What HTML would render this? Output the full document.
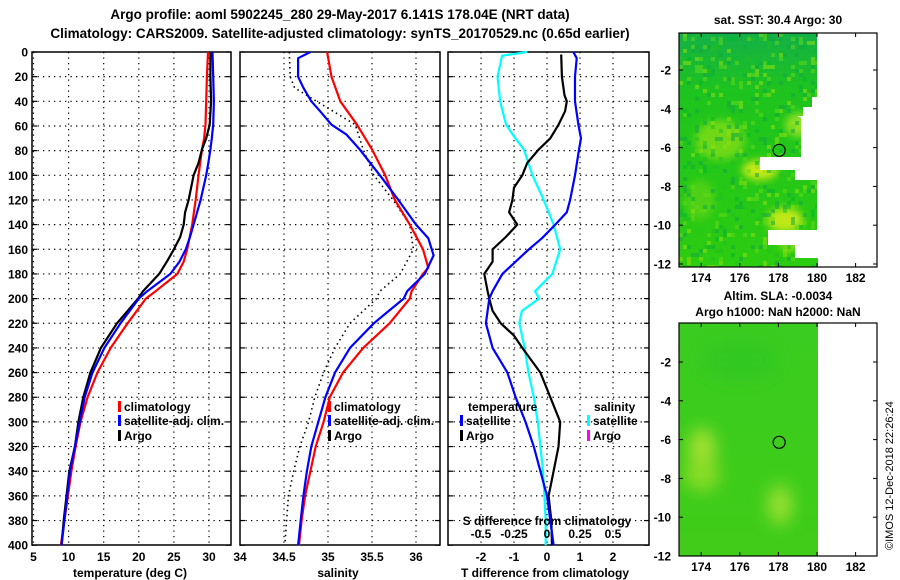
<!DOCTYPE html>
<html><head><meta charset="utf-8">
<style>
body{margin:0;background:#fff;}
svg{display:block;font-family:"Liberation Sans",sans-serif;font-weight:bold;}
</style></head>
<body>
<svg id="fig" width="900" height="580" viewBox="0 0 900 580" xmlns="http://www.w3.org/2000/svg">
<text x="340" y="19" font-size="13.5" text-anchor="middle">Argo profile: aoml 5902245_280 29-May-2017 6.141S 178.04E (NRT data)</text>
<text x="340" y="38" font-size="13.5" text-anchor="middle">Climatology: CARS2009. Satellite-adjusted climatology: synTS_20170529.nc (0.65d earlier)</text>
<g id="p1"></g>
<g id="p2"></g>
<g id="p3"></g>
<g id="m1"></g>
<g id="m2"></g>
<text transform="translate(893,550) rotate(-90)" font-size="11" font-weight="normal">©IMOS 12-Dec-2018 22:26:24</text>
</svg>
<script>
// ---- data ----
const depthTicks=[0,20,40,60,80,100,120,140,160,180,200,220,240,260,280,300,320,340,360,380,400];
const tDepth=[0,20,40,59,70,79,90,100,120,130,140,150,160,170,180,194,200,220,240,260,280,300,320,340,360,380,400];
const tClim=[29.86,29.7,29.6,29.5,29.3,29.0,28.75,28.5,28.1,27.85,27.6,27.25,26.9,26.4,25.5,22.4,21.0,18.4,16.0,14.1,12.7,11.7,11.0,10.4,9.9,9.4,8.9];
const tSat=[30.5,30.6,30.7,30.6,30.4,30.2,29.9,29.6,28.8,28.3,27.8,27.3,26.7,25.8,24.5,21.2,20.0,17.4,15.1,13.4,12.3,11.6,10.9,10.2,9.8,9.4,9.0];
const tArgo=[30.2,30.2,30.3,30.1,29.6,29.0,28.5,27.8,27.1,26.6,26.4,25.9,25.0,24.0,22.9,20.6,19.9,16.9,14.6,13.1,12.1,11.4,10.9,10.1,9.7,9.3,9.0];
const sDepth=[0,5,20,29,40,48,59,67,79,100,120,140,151,165,180,194,200,220,240,260,280,300,320,340,360,380,400];
const sSat=[34.80,34.66,34.66,34.72,34.81,34.91,35.04,35.21,35.36,35.59,35.80,36.0,36.14,36.20,36.10,35.90,35.86,35.52,35.25,35.08,34.97,34.89,34.81,34.76,34.72,34.69,34.66];
const sClimD=[0,20,40,59,79,100,120,140,160,175,180,194,200,220,240,260,280,300,320,340,360,380,400];
const sClim=[34.99,35.04,35.14,35.33,35.50,35.65,35.76,35.93,36.08,36.14,36.08,35.95,35.93,35.70,35.40,35.17,35.02,34.95,34.86,34.80,34.74,34.70,34.67];
const sArgoD=[0,20,29,40,59,79,100,120,140,160,180,194,200,220,240,260,280,300,320,340,360,380,400];
const sArgo=[34.56,34.57,34.62,34.87,35.31,35.40,35.52,35.74,35.93,35.97,35.82,35.59,35.55,35.25,35.08,34.95,34.85,34.78,34.68,34.61,34.55,34.53,34.51];
const dTSatD=[0,5,20,40,59,70,79,100,120,130,140,151,160,180,194,200,220,240,260,280,300,320,340,360,380,400];
const dTSat=[0.8,0.9,0.85,0.85,0.95,1.03,0.97,0.85,0.7,0.6,0.25,-0.15,-0.55,-1.35,-1.65,-1.75,-1.85,-1.65,-1.2,-0.95,-0.65,-0.4,-0.2,0,0.1,0.2];
const dTArgoD=[2,20,35,40,48,59,70,79,90,100,110,120,130,140,150,160,170,180,194,200,210,220,230,240,260,280,300,320,340,360,380,400];
const dTArgo=[0.43,0.45,0.53,0.6,0.55,0.35,0.1,-0.25,-0.6,-0.75,-1.0,-1.05,-1.15,-0.9,-1.25,-1.65,-1.65,-1.9,-1.8,-1.75,-1.65,-1.4,-1.0,-0.75,-0.2,0.1,0.4,0.35,0.2,0.05,0.13,0.15];
const dSSatD=[0,3,20,40,59,70,79,100,120,140,160,180,194,200,210,220,240,260,280,300,320,340,360,380,400];
const dSSat=[-0.15,-0.34,-0.375,-0.355,-0.31,-0.24,-0.175,-0.11,-0.025,0.05,0.1,0.04,-0.09,-0.06,-0.19,-0.21,-0.17,-0.14,-0.1,-0.07,-0.05,-0.03,-0.02,-0.01,-0.01];
const tTicks=[5,10,15,20,25,30];
const sTicks=[34,34.5,35,35.5,36];
const sTickLabels=["34","34.5","35","35.5","36"];
const dTTicks=[-2,-1,0,1,2];
const dSTicks=[-0.5,-0.25,0,0.25,0.5];
const lonTicks=[174,176,178,180,182];
const latTicks1=[-2,-4,-6,-8,-10,-12];

// ---- helpers ----
const NS="http://www.w3.org/2000/svg";
function mk(parent,tag,attrs,text){const e=document.createElementNS(NS,tag);for(const k in attrs)e.setAttribute(k,attrs[k]);if(text!==undefined)e.textContent=text;parent.appendChild(e);return e;}
const yD=d=>52+d*1.233;
const TOP=52,BOT=545;
const xT=T=>33.5+(T-5)*7.02;
const xS=S=>240+(S-34)*88;
const xDT=t=>547+t*33;
const xDS=s=>547+s*132;

function frame(g,x0,x1,vticks,xf,leftLabels){
  for(const d of depthTicks){if(d===0||d===400)continue;
    const l=mk(g,'line',{x1:x0,x2:x1,y1:yD(d),y2:yD(d),stroke:'#000','stroke-dasharray':'1.3,4.2','stroke-width':1.2});
    }
  for(const v of vticks){const x=xf(v);if(x<=x0+1||x>=x1-1)continue;
    const l=mk(g,'line',{x1:x,x2:x,y1:TOP,y2:BOT,stroke:'#000','stroke-dasharray':'1.3,4.2','stroke-width':1.2});
    }
  for(const d of depthTicks){
    const a=mk(g,'line',{x1:x0,x2:x0+5,y1:yD(d),y2:yD(d),stroke:'#000','stroke-width':1.2});
    
    const b=mk(g,'line',{x1:x1-5,x2:x1,y1:yD(d),y2:yD(d),stroke:'#000','stroke-width':1.2});
    
    if(leftLabels){const t=mk(g,'text',{x:28,y:yD(d)+4.5,'font-size':12,'text-anchor':'end'},String(d));
      }
  }
  const r=mk(g,'rect',{x:x0,y:TOP,width:x1-x0,height:BOT-TOP,fill:'none',stroke:'#000','stroke-width':1.5});
  
}
function line(g,xs,ds,xf,color,name,dash){
  const pts=xs.map((v,i)=>xf(v).toFixed(1)+','+yD(ds[i]).toFixed(1)).join(' ');
  const a={points:pts,fill:'none',stroke:color,'stroke-width':dash?1.6:2.2,'stroke-linejoin':'round'};
  if(dash)a['stroke-dasharray']='1.5,3.5';
  const p=mk(g,'polyline',a);
  
}
function legend(g,x,y,color,label,name){
  const r=mk(g,'rect',{x:x,y:y-10,width:3,height:11,fill:color});
  
  if(label){const t=mk(g,'text',{x:x+6,y:y,'font-size':12},label);
  }
}
function xlabels(g,ticks,labels,xf,y,name){
  ticks.forEach((v,i)=>{const t=mk(g,'text',{x:xf(v),y:y,'font-size':12,'text-anchor':'middle'},labels?labels[i]:String(v));
    });
}

// panel 1
const p1=document.getElementById('p1');
frame(p1,32,231,tTicks,xT,true);
line(p1,tClim,tDepth,xT,'#ff0000','climatology-temp-line');
line(p1,tArgo,tDepth,xT,'#000000','argo-temp-line');
line(p1,tSat,tDepth,xT,'#0000ff','satellite-temp-line');
xlabels(p1,tTicks,null,xT,561,'temp-tick-label');
let t=mk(p1,'text',{x:130,y:577,'font-size':12,'text-anchor':'middle'},'temperature (deg C)');

legend(p1,118,411,'#ff0000','climatology','legend-climatology');
legend(p1,118,425,'#0000ff','satellite-adj. clim.','legend-satellite');
legend(p1,118,440,'#000000','Argo','legend-argo');

// panel 2
const p2=document.getElementById('p2');
frame(p2,240,440,sTicks,xS,false);
line(p2,sArgo,sArgoD,xS,'#000000','argo-salinity-line',true);
line(p2,sClim,sClimD,xS,'#ff0000','climatology-salinity-line');
line(p2,sSat,sDepth,xS,'#0000ff','satellite-salinity-line');
xlabels(p2,sTicks,sTickLabels,xS,561,'salinity-tick-label');
t=mk(p2,'text',{x:338,y:577,'font-size':12,'text-anchor':'middle'},'salinity');

legend(p2,328,411,'#ff0000','climatology','legend-climatology');
legend(p2,328,425,'#0000ff','satellite-adj. clim.','legend-satellite');
legend(p2,328,440,'#000000','Argo','legend-argo');

// panel 3
const p3=document.getElementById('p3');
frame(p3,448,649,dTTicks,xDT,false);
line(p3,dSSat,dSSatD,xDS,'#00ffff','salinity-satellite-diff-line');
line(p3,dTArgo,dTArgoD,xDT,'#000000','temp-argo-diff-line');
line(p3,dTSat,dTSatD,xDT,'#0000ff','temp-satellite-diff-line');
xlabels(p3,dTTicks,null,xDT,561,'tdiff-tick-label');
xlabels(p3,dSTicks,null,xDS,538,'sdiff-tick-label');
t=mk(p3,'text',{x:547,y:525,'font-size':12,'text-anchor':'middle'},'S difference from climatology');

t=mk(p3,'text',{x:545,y:577,'font-size':12,'text-anchor':'middle'},'T difference from climatology');

t=mk(p3,'text',{x:468,y:411,'font-size':12},'temperature');

t=mk(p3,'text',{x:594,y:411,'font-size':12},'salinity');

legend(p3,460,425,'#0000ff','satellite','legend-temp-satellite');
legend(p3,460,440,'#000000','Argo','legend-temp-argo');
legend(p3,587,425,'#00ffff','satellite','legend-sal-satellite');
legend(p3,587,440,'#ff00ff','Argo','legend-sal-argo');

// maps
const lonX=l=>679+(l-172.85)*19.3;
function hash(i,j){let h=(i*374761393+j*668265263)>>>0;h=((h^(h>>>13))*1274126177)>>>0;return (h&1023)/1023;}
function map(g,y0,y1,latY,latTicks,title1,title2,kind){
  const defs=mk(g,'defs',{});
  const gid='grad'+kind;
  const lg=mk(defs,'linearGradient',{id:gid,x1:0,y1:0,x2:0,y2:1});
  if(kind==='sst'){mk(lg,'stop',{offset:0,'stop-color':'#14b048'});mk(lg,'stop',{offset:0.25,'stop-color':'#1ec41e'});mk(lg,'stop',{offset:1,'stop-color':'#2ccc10'});}
  else{mk(lg,'stop',{offset:0,'stop-color':'#3acc20'});mk(lg,'stop',{offset:1,'stop-color':'#40cc18'});}
  const fid='blur'+kind;const f=mk(defs,'filter',{id:fid});mk(f,'feGaussianBlur',{stdDeviation:kind==='sst'?4:8});
  let poly;
  if(kind==='sst') poly=[[679,y0],[817,y0],[817,97],[812,97],[812,107],[803,107],[803,116],[797,116],[801,118],[801,157],[760,157],[760,170],[795,170],[795,180],[817,180],[817,230],[768,230],[768,245],[795,245],[795,258],[818,258],[818,y1],[679,y1]];
  else poly=[[679,y0],[818,y0],[818,y1],[679,y1]];
  const cp='clip'+kind;const c=mk(defs,'clipPath',{id:cp});mk(c,'polygon',{points:poly.map(p=>p.join(',')).join(' ')});
  const gg=mk(g,'g',{'clip-path':'url(#'+cp+')'});
  
  mk(gg,'rect',{x:679,y:y0,width:140,height:y1-y0,fill:'url(#'+gid+')'});
  const blobs=kind==='sst'?[[760,170,18,10,'#c8e818'],[785,220,18,12,'#c0e818'],[720,140,25,20,'#70d818'],[800,125,15,12,'#90e020'],[700,200,15,20,'#50d018'],[790,245,10,5,'#a0e020']]
    :[[702,450,14,22,'#a0e030'],[702,475,18,16,'#88dc28'],[780,505,12,20,'#98e030'],[740,360,40,20,'#30c820']];
  const bg=mk(gg,'g',{filter:'url(#'+fid+')'});
  for(const b of blobs)mk(bg,'ellipse',{cx:b[0],cy:b[1],rx:b[2],ry:b[3],fill:b[4]});
  if(kind==='sst'){
    const tex=mk(gg,'g',{});
    
    const cols=['#10a840','#20c020','#60d818','#90e010','#00b828'];
    for(let i=0;i<35;i++)for(let j=0;j<59;j++){const h=hash(i,j);if(h<0.55)continue;
      mk(tex,'rect',{x:679+i*4,y:y0+j*4,width:4,height:4,fill:cols[Math.floor(hash(j,i+7)*5)],opacity:0.55});}
  }
  const circ=mk(g,'circle',{cx:lonX(178.04),cy:latY(-6.141),r:6,fill:'none',stroke:'#000','stroke-width':1.2});
  
  const fr=mk(g,'rect',{x:679,y:y0,width:198,height:y1-y0,fill:'none',stroke:'#000','stroke-width':1.2});
  
  for(const l of lonTicks){const x=lonX(l);
    mk(g,'line',{x1:x,x2:x,y1:y0,y2:y0+4,stroke:'#000'});mk(g,'line',{x1:x,x2:x,y1:y1-4,y2:y1,stroke:'#000'});
    const tl=mk(g,'text',{x:x,y:y1+15,'font-size':12,'text-anchor':'middle'},String(l));
    }
  for(const la of latTicks){const y=latY(la);
    mk(g,'line',{x1:679,x2:683,y1:y,y2:y,stroke:'#000'});mk(g,'line',{x1:873,x2:877,y1:y,y2:y,stroke:'#000'});
    const tl=mk(g,'text',{x:671,y:y+4.5,'font-size':12,'text-anchor':'end'},String(la));
    }
  let tt=mk(g,'text',{x:778,y:title2?y0-23:y0-9,'font-size':12,'text-anchor':'middle'},title1);
  
  if(title2){tt=mk(g,'text',{x:778,y:y0-7,'font-size':12,'text-anchor':'middle'},title2);
  }
}
map(document.getElementById('m1'),33,267,la=>70+(-2-la)*19.4,latTicks1,'sat. SST: 30.4 Argo: 30',null,'sst');
map(document.getElementById('m2'),323,556,la=>362+(-2-la)*19.4,latTicks1,'Altim. SLA: -0.0034','Argo h1000: NaN h2000: NaN','sla');
</script>
</body></html>
